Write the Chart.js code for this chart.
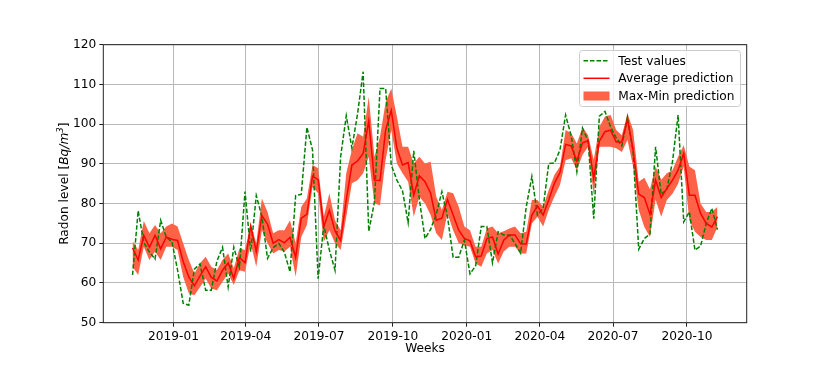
<!DOCTYPE html>
<html>
<head>
<meta charset="utf-8">
<script src="https://cdn.jsdelivr.net/npm/chart.js@4.4.0/dist/chart.umd.min.js"></script>
<style>
    html, body { margin: 0; padding: 0; background: #fff; }
    #wrap { width: 830px; height: 369px; }
</style>
</head>
<body>
<div id="wrap"><canvas id="radonChart" width="830" height="369"></canvas></div>
<script>
// Weekly series, first week starts 2018-11-11
const firstWeek = '2018-11-11';

const testValues = [
    62, 78.2, 70.2, 67.8, 66, 75.8, 71.5, 70.4, 63.3, 54.9,
    54.4, 63.5, 64.8, 58.2, 58.2, 65.5, 69, 59, 69, 63.9,
    83, 67.9, 82, 76.7, 66.2, 68.9, 70, 67.7, 62.8, 82,
    82.3, 99.2, 93.5, 61.1, 74.5, 68.3, 63.2, 91.8, 102.1, 94,
    102.5, 113.2, 73, 80.3, 109, 109, 89.7, 85.9, 83.2, 75.2,
    93.3, 81, 71.2, 73.5, 77.3, 83, 76.7, 66.5, 66.5, 70.8,
    62.3, 64.3, 74.2, 74.2, 65.1, 72.9, 72.1, 72.1, 70, 67.5,
    79.2, 86.8, 77.1, 78.8, 90.1, 90.2, 93.5, 102.3, 97, 88,
    99, 95.8, 76.2, 102, 103.2, 99.3, 96.5, 94.5, 101.8, 93.2,
    68.5, 71.2, 72.3, 94.3, 82.3, 83.6, 90.5, 102.3, 75.4, 77.9,
    68.3, 69.3, 75, 78.8, 73.4
];

const avgPrediction = [
    68.8, 65.8, 72, 69, 72, 68.6, 71.6, 71, 70.7, 65.4,
    61.5, 59.3, 61.8, 64.1, 61.4, 60.5, 63.2, 65, 61.2, 66.4,
    65.1, 74.4, 67.9, 77, 74.8, 70, 70.9, 70.1, 71.5, 66.4,
    76.3, 77.3, 86.9, 86, 74.2, 78.3, 73.1, 70.7, 81, 89.7,
    90.7, 92.6, 100.8, 85.9, 85.8, 98.5, 103.5, 93.9, 89.7, 90.3,
    82.1, 87, 85.5, 82.6, 75.8, 76.3, 81, 77.1, 73.3, 71.2,
    70.6, 66.6, 66.8, 71.2, 71.6, 67.3, 70.8, 72.1, 72.1, 69.9,
    69.8, 77.1, 79.4, 77.1, 80.9, 85.1, 87.8, 94.9, 94.5, 90.7,
    95.3, 95.8, 86.3, 95.7, 98.1, 98.5, 95.5, 95.5, 101.2, 93.5,
    82.4, 81.5, 77.3, 85.9, 81.5, 83.8, 85.9, 88.4, 92.6, 82.1,
    82.1, 77.5, 75, 74.1, 76.7
];

const maxPrediction = [
    70.6, 68.3, 75.6, 72.5, 74.6, 72.5, 74.2, 75, 74.2, 70,
    65.8, 62.4, 65, 66.6, 64.1, 63.3, 65.8, 67.4, 63.7, 68.7,
    68.3, 75, 70, 81.3, 77.9, 72.5, 73.3, 73.3, 75.8, 70,
    79.2, 81.3, 89.7, 88.9, 76.7, 82.6, 75.8, 73.3, 87.6, 93.5,
    97.7, 96.8, 106.9, 91.8, 96.8, 105.6, 109, 101.9, 94.3, 94.3,
    90.1, 91.8, 90.1, 90.5, 81.7, 78.4, 83, 82.6, 79.2, 74.2,
    73.3, 69.1, 69.1, 73.7, 74.2, 72.5, 73, 73.7, 74.2, 72.5,
    72.9, 80.9, 80.9, 79.2, 83.4, 87.2, 89.3, 98.5, 97.7, 95.1,
    99.3, 97.2, 91, 99.3, 101.9, 102.3, 98.5, 97.2, 102.7, 98.5,
    85.5, 86.5, 83.6, 89.3, 86, 87.6, 88.4, 91.8, 94.7, 89.3,
    88.4, 80, 77.9, 77.9, 79.2
];

const minPrediction = [
    64.1, 62, 69.1, 65.8, 67.9, 65.8, 69.1, 69.1, 68.3, 61.6,
    57.4, 56.9, 59, 61.1, 58.6, 58.2, 60.3, 62.4, 59.5, 63.2,
    62.8, 70, 64.1, 73.3, 70, 67.4, 68.3, 67.9, 69.1, 61.6,
    71.6, 74.6, 84.2, 82.6, 70.4, 73.3, 70, 68.3, 76.7, 85.1,
    85.9, 87.6, 91.8, 80, 79.6, 91, 98.5, 90.1, 87.6, 85.5,
    76.7, 81.7, 80, 77.1, 72.5, 70.8, 77.5, 73.3, 70, 69.5,
    69.1, 64.9, 64.1, 67.4, 68.3, 64.9, 67.9, 69.1, 69.1, 67.4,
    67.4, 75, 76.7, 74.2, 78.4, 81.7, 84.7, 90.9, 91.4, 88.4,
    92.2, 94.3, 82.1, 94.3, 94.3, 94.3, 93.9, 93, 96, 89.3,
    78.4, 74.1, 71.6, 81, 76.7, 80.9, 82.5, 85, 89.3, 75.8,
    72.9, 71.6, 70.8, 70.8, 74.1
];

const monthTicks = ['2019-01', '2019-04', '2019-07', '2019-10', '2020-01', '2020-04', '2020-07', '2020-10'];
const yTicks = [50, 60, 70, 80, 90, 100, 110, 120];

const legendLabels = ['Test values', 'Average prediction', 'Max-Min prediction'];

// x axis is in days since the first week
const DAY = 86400000;
const t0 = Date.parse(firstWeek);
const weekDays = testValues.map((_, i) => i * 7);
const toPoints = arr => arr.map((v, i) => ({ x: weekDays[i], y: v }));
const tickDays = monthTicks.map(m => (Date.parse(m + '-01') - t0) / DAY);

const lastDay = weekDays[weekDays.length - 1];
const xMargin = lastDay * 0.05; // matplotlib default margin

const FONT = "'DejaVu Sans', sans-serif";
const FS = 12.2;

Chart.defaults.font.family = FONT;
Chart.defaults.font.size = FS;
Chart.defaults.color = '#000';

const greenDash = [4.5, 2];

// frame, axis titles and legend in matplotlib style
const mplDecor = {
    id: 'mplDecor',
    afterDraw(chart) {
        const ctx = chart.ctx;
        const a = chart.chartArea;
        ctx.save();

        // axes frame
        ctx.strokeStyle = '#222';
        ctx.lineWidth = 1;
        ctx.strokeRect(a.left, a.top, a.right - a.left, a.bottom - a.top);

        // x title
        ctx.fillStyle = '#000';
        ctx.font = FS + 'px ' + FONT;
        ctx.textAlign = 'center';
        ctx.textBaseline = 'alphabetic';
        ctx.fillText('Weeks', (a.left + a.right) / 2, 352);

        // y title with italic unit
        const parts = [
            { t: 'Radon level [', f: FS + 'px ' + FONT, dy: 0 },
            { t: 'Bq/m', f: 'italic ' + FS + 'px ' + FONT, dy: 0 },
            { t: '3', f: 'italic ' + (FS * 0.7) + 'px ' + FONT, dy: -5 },
            { t: ']', f: FS + 'px ' + FONT, dy: 0 }
        ];
        let total = 0;
        parts.forEach(p => { ctx.font = p.f; p.w = ctx.measureText(p.t).width; total += p.w; });
        ctx.translate(68, (a.top + a.bottom) / 2);
        ctx.rotate(-Math.PI / 2);
        ctx.textAlign = 'left';
        let px = -total / 2;
        parts.forEach(p => {
            ctx.font = p.f;
            ctx.fillText(p.t, px, p.dy);
            px += p.w;
        });
        ctx.setTransform(1, 0, 0, 1, 0, 0);

        // legend
        const bx = 579.5, by = 50.5, bw = 161, bh = 56, r = 3;
        ctx.beginPath();
        ctx.moveTo(bx + r, by);
        ctx.arcTo(bx + bw, by, bx + bw, by + bh, r);
        ctx.arcTo(bx + bw, by + bh, bx, by + bh, r);
        ctx.arcTo(bx, by + bh, bx, by, r);
        ctx.arcTo(bx, by, bx + bw, by, r);
        ctx.closePath();
        ctx.fillStyle = 'rgba(255,255,255,0.8)';
        ctx.fill();
        ctx.strokeStyle = '#cccccc';
        ctx.lineWidth = 1;
        ctx.stroke();

        const rows = [60.7, 78.3, 96];
        const hx0 = 583.5, hx1 = 609.5;
        const ds = chart.data.datasets;

        ctx.lineWidth = ds[1].borderWidth;
        ctx.strokeStyle = ds[1].borderColor;
        ctx.setLineDash(greenDash);
        ctx.beginPath();
        ctx.moveTo(hx0, rows[0]);
        ctx.lineTo(hx1, rows[0]);
        ctx.stroke();
        ctx.setLineDash([]);

        ctx.lineWidth = ds[0].borderWidth;
        ctx.strokeStyle = ds[0].borderColor;
        ctx.beginPath();
        ctx.moveTo(hx0, rows[1]);
        ctx.lineTo(hx1, rows[1]);
        ctx.stroke();

        ctx.fillStyle = ds[2].backgroundColor;
        ctx.fillRect(hx0, rows[2] - 4.5, hx1 - hx0, 9);

        ctx.fillStyle = '#000';
        ctx.font = FS + 'px ' + FONT;
        ctx.textBaseline = 'middle';
        legendLabels.forEach((txt, i) => ctx.fillText(txt, 618.3, rows[i] + 1));

        ctx.restore();
    }
};

new Chart(document.getElementById('radonChart'), {
    type: 'line',
    data: {
        datasets: [
            {
                label: legendLabels[1],
                data: toPoints(avgPrediction),
                borderColor: '#ff0000',
                borderWidth: 1.5,
                pointRadius: 0,
                tension: 0,
                fill: false
            },
            {
                label: legendLabels[0],
                data: toPoints(testValues),
                borderColor: '#008000',
                borderWidth: 1.5,
                borderDash: greenDash,
                pointRadius: 0,
                tension: 0,
                fill: false
            },
            {
                label: legendLabels[2],
                data: toPoints(maxPrediction),
                borderWidth: 0,
                borderColor: 'rgba(0,0,0,0)',
                backgroundColor: '#ff6347',
                pointRadius: 0,
                tension: 0,
                fill: '+1'
            },
            {
                label: 'min',
                data: toPoints(minPrediction),
                borderWidth: 0,
                borderColor: 'rgba(0,0,0,0)',
                pointRadius: 0,
                tension: 0,
                fill: false
            }
        ]
    },
    options: {
        responsive: false,
        devicePixelRatio: 1,
        animation: false,
        layout: { padding: { left: 0, top: 44.7, right: 83.3, bottom: 0 } },
        plugins: {
            legend: { display: false },
            tooltip: { enabled: false }
        },
        scales: {
            x: {
                type: 'linear',
                min: -xMargin,
                max: lastDay + xMargin,
                afterBuildTicks: s => { s.ticks = tickDays.map(v => ({ value: v })); },
                afterFit: s => { s.height = 369 - 322.7; },
                ticks: {
                    autoSkip: false,
                    maxRotation: 0,
                    padding: 3,
                    callback: (v, i) => monthTicks[i]
                },
                grid: { color: '#b8b8b8', lineWidth: 1, tickColor: '#222', tickLength: 4 },
                border: { display: false }
            },
            y: {
                min: 50,
                max: 120,
                afterBuildTicks: s => { s.ticks = yTicks.map(v => ({ value: v })); },
                afterFit: s => { s.width = 103.3; },
                ticks: { padding: 3, callback: v => String(v) },
                grid: { color: '#b8b8b8', lineWidth: 1, tickColor: '#222', tickLength: 4 },
                border: { display: false }
            }
        }
    },
    plugins: [mplDecor]
});
</script>
</body>
</html>
